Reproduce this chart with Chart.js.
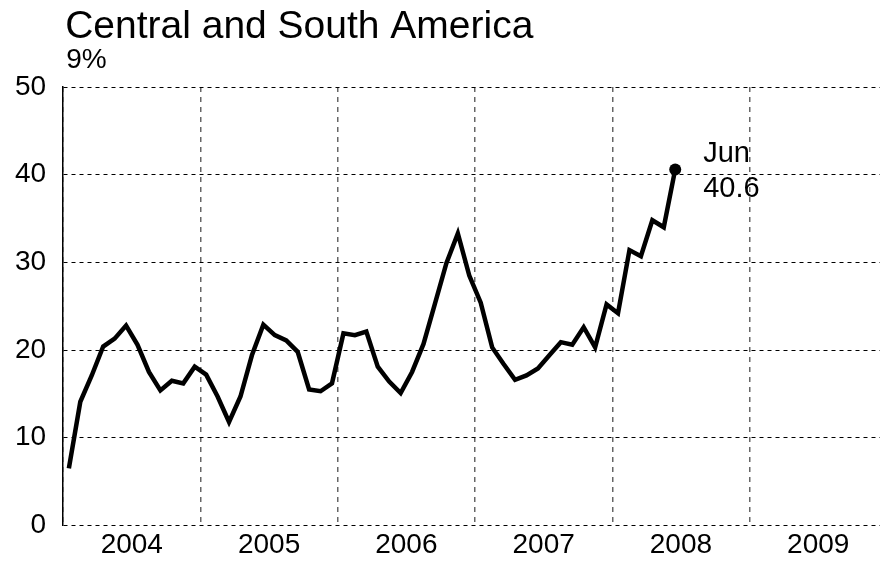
<!DOCTYPE html>
<html>
<head>
<meta charset="utf-8">
<script src="https://cdn.jsdelivr.net/npm/chart.js@4"></script>
<style>
  html, body { margin: 0; padding: 0; background: #fff; }
  #wrap { width: 880px; height: 561px; }
</style>
</head>
<body>
<div id="wrap"><canvas id="chart" width="880" height="561"></canvas></div>
<script>
// monthly values, Jan 2004 .. Jun 2008
const values2004 = [6.5, 14.1, 17.1, 20.4, 21.3, 22.8, 20.6, 17.5, 15.4, 16.5, 16.2, 18.1];
const values2005 = [17.2, 14.7, 11.8, 14.7, 19.4, 22.9, 21.7, 21.1, 19.8, 15.5, 15.3, 16.2];
const values2006 = [21.9, 21.7, 22.1, 18.1, 16.4, 15.1, 17.5, 20.7, 25.3, 29.9, 33.3, 28.5];
const values2007 = [25.4, 20.3, 18.4, 16.6, 17.1, 17.9, 19.4, 20.9, 20.6, 22.6, 20.3, 25.2];
const values2008 = [24.2, 31.4, 30.7, 34.8, 34.0, 40.6];
const years = [2004, 2005, 2006, 2007, 2008, 2009];
const yTicks = [0, 10, 20, 30, 40, 50];
const titleText = 'Central and South America';
const subtitleText = '9%';
const lastLabel = ['Jun', '40.6'];

const values = [...values2004, ...values2005, ...values2006, ...values2007, ...values2008];
const points = values.map((v, i) => ({ x: 2004 + (i + 0.5) / 12, y: v }));

const FONT = '"Liberation Sans", Arial, sans-serif';

const textPlugin = {
  id: 'texts',
  afterDraw(chart) {
    const ctx = chart.ctx;
    const area = chart.chartArea;
    ctx.save();
    ctx.fillStyle = '#000';
    ctx.textAlign = 'left';
    ctx.textBaseline = 'alphabetic';
    ctx.font = '39px ' + FONT;
    ctx.fillText(titleText, area.left + 2, 38);
    ctx.font = '28px ' + FONT;
    ctx.fillText(subtitleText, area.left + 3, 68);
    // label for the last point
    const meta = chart.getDatasetMeta(0);
    const last = meta.data[meta.data.length - 1];
    ctx.font = '29px ' + FONT;
    ctx.fillText(lastLabel[0], last.x + 28, last.y - 7);
    ctx.fillText(lastLabel[1], last.x + 28, last.y + 28);
    ctx.restore();
  }
};

new Chart(document.getElementById('chart'), {
  type: 'line',
  data: {
    datasets: [{
      data: points,
      borderColor: '#000',
      backgroundColor: '#000',
      borderWidth: 4.5,
      borderJoinStyle: 'miter',
      tension: 0,
      pointRadius: points.map((p, i) => i === points.length - 1 ? 6 : 0),
      pointHoverRadius: 0,
      pointBackgroundColor: '#000',
      pointBorderWidth: 0,
      clip: false
    }]
  },
  options: {
    responsive: false,
    animation: false,
    events: [],
    layout: { autoPadding: false, padding: { left: -2, top: 87, right: 0, bottom: -4 } },
    plugins: {
      legend: { display: false },
      tooltip: { enabled: false },
      title: { display: false }
    },
    scales: {
      x: {
        type: 'linear',
        min: 2004,
        max: 2009.95,
        afterBuildTicks(scale) {
          scale.ticks = years.map(v => ({ value: v }));
        },
        ticks: { display: false },
        border: { display: false, dash: [5, 5] },
        grid: {
          color: '#666',
          lineWidth: 1.5,
          drawTicks: false
        }
      },
      xLabels: {
        type: 'linear',
        position: 'bottom',
        min: 2004,
        max: 2009.95,
        afterBuildTicks(scale) {
          scale.ticks = years.map(v => ({ value: v + 0.5 }));
        },
        ticks: {
          color: '#000',
          font: { family: FONT, size: 28 },
          padding: 3,
          maxRotation: 0,
          autoSkip: false,
          callback: v => String(Math.floor(v))
        },
        border: { display: false },
        grid: { display: false, drawTicks: false }
      },
      y: {
        min: 0,
        max: 50,
        afterBuildTicks(scale) {
          scale.ticks = yTicks.map(v => ({ value: v }));
        },
        ticks: {
          color: '#000',
          font: { family: FONT, size: 28 },
          padding: 17
        },
        border: { display: true, color: '#000', width: 1.5, dash: [4, 4] },
        grid: {
          color: '#000',
          lineWidth: 1,
          drawTicks: false
        }
      }
    }
  },
  plugins: [textPlugin]
});
</script>
</body>
</html>
